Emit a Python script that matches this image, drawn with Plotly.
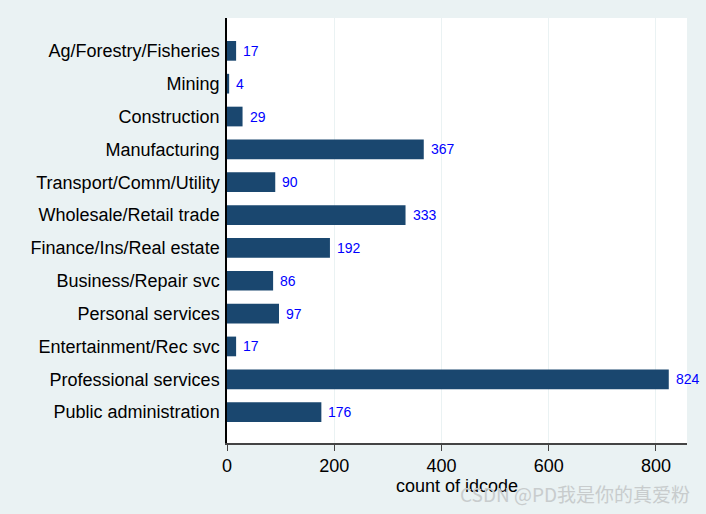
import plotly.graph_objects as go

categories = ["Ag/Forestry/Fisheries", "Mining", "Construction", "Manufacturing",
              "Transport/Comm/Utility", "Wholesale/Retail trade", "Finance/Ins/Real estate",
              "Business/Repair svc", "Personal services", "Entertainment/Rec svc",
              "Professional services", "Public administration"]
counts = [17, 4, 29, 367, 90, 333, 192, 86, 97, 17, 824, 176]
x_ticks = [0, 200, 400, 600, 800]

FONT = "Arial, Liberation Sans, sans-serif"
BG = "#EAF2F3"

fig = go.Figure()
fig.add_trace(go.Bar(
    x=counts, y=categories, orientation="h",
    marker=dict(color="#1A476F", line=dict(width=0)),
    width=0.6, hoverinfo="x+y",
))

for c, v in zip(categories, counts):
    fig.add_annotation(x=v, y=c, text=str(v), showarrow=False,
                       xanchor="left", yanchor="middle", xshift=5,
                       font=dict(family=FONT, size=14, color="#0000FF"))

fig.add_annotation(xref="paper", yref="paper", x=1.01, y=-0.118,
                   text="CSDN @PD我是你的真爱粉", showarrow=False,
                   xanchor="right", yanchor="middle",
                   font=dict(family="Noto Sans CJK SC, sans-serif", size=19, color="#C8CCCD"))

fig.update_layout(
    width=706, height=514,
    paper_bgcolor=BG, plot_bgcolor="white",
    margin=dict(l=227, r=19, t=18, b=71),
    showlegend=False,
    bargap=0.4,
    font=dict(family=FONT, color="black"),
    xaxis=dict(
        range=[0, 858], tickvals=x_ticks, ticktext=[str(t) for t in x_ticks],
        showgrid=True, gridcolor=BG, gridwidth=1, zeroline=False,
        showline=True, linecolor="#444444", linewidth=1.5,
        ticks="outside", ticklen=6, tickcolor="#444444",
        tickfont=dict(size=18, family=FONT, color="black"),
        title=dict(text="count of idcode", font=dict(size=18, family=FONT, color="black"), standoff=0),
    ),
    yaxis=dict(
        categoryorder="array", categoryarray=categories,
        range=[11.94, -1.0],
        showgrid=False, zeroline=False,
        showline=True, linecolor="black", linewidth=1.5,
        ticks="", ticklabelstandoff=2,
        tickfont=dict(size=18, family=FONT, color="black"),
    ),
)

fig.write_html("out.html", config={"displayModeBar": False},
               post_script="document.body.style.margin='0';")
